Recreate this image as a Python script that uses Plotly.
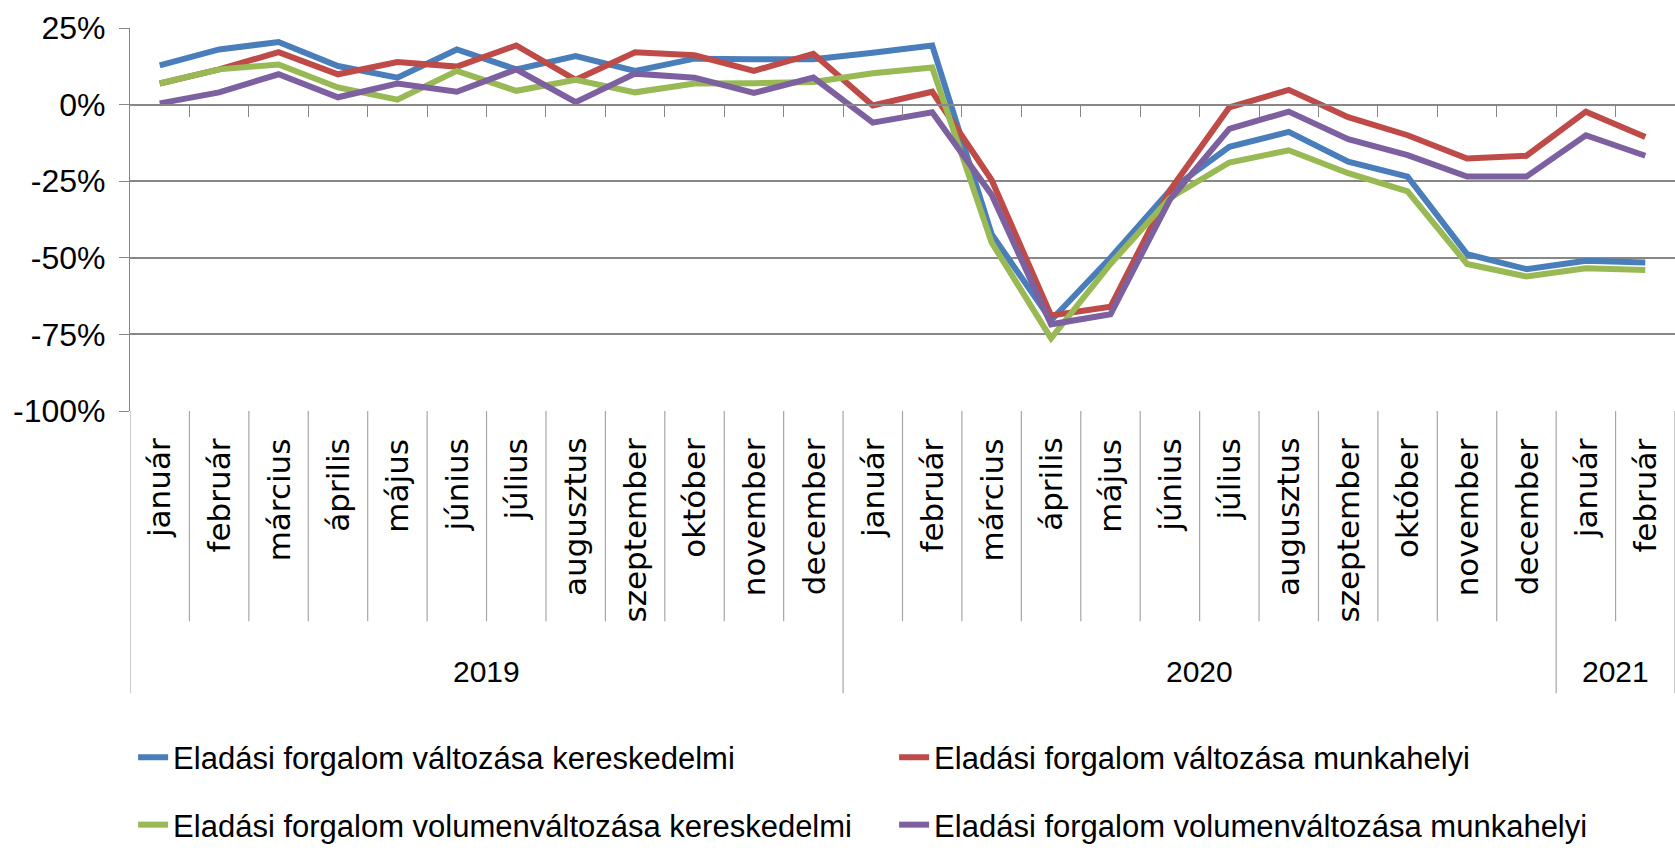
import plotly.graph_objects as go

# ---------------- data ----------------
months = ["január", "február", "március", "április", "május", "június",
          "július", "augusztus", "szeptember", "október", "november", "december",
          "január", "február", "március", "április", "május", "június",
          "július", "augusztus", "szeptember", "október", "november", "december",
          "január", "február"]
years = ["2019"] * 12 + ["2020"] * 12 + ["2021"] * 2

names = ["Eladási forgalom változása kereskedelmi",
         "Eladási forgalom változása munkahelyi",
         "Eladási forgalom volumenváltozása kereskedelmi",
         "Eladási forgalom volumenváltozása munkahelyi"]

valt_ker = [12.8, 18.0, 20.4, 12.6, 8.8, 18.0, 11.5, 15.8, 11.0, 15.0, 14.8, 14.8,
            16.9, 19.3, -42.3, -70.4, -50.0, -28.0, -13.8, -8.9, -18.6, -23.5, -48.8, -53.7,
            -51.0, -51.5]
valt_mun = [6.9, 11.5, 17.1, 9.9, 13.9, 12.4, 19.3, 8.1, 17.1, 16.1, 11.0, 16.6,
            -0.3, 4.2, -24.6, -68.8, -66.0, -28.0, -0.9, 4.8, -4.1, -10.0, -17.6, -16.7,
            -2.3, -10.6]
vol_ker = [6.9, 11.5, 13.1, 5.6, 1.6, 11.0, 4.5, 8.1, 4.0, 6.9, 7.0, 7.4,
           10.2, 12.1, -45.0, -76.3, -52.0, -30.5, -18.9, -14.9, -22.4, -28.3, -52.0, -56.1,
           -53.4, -54.0]
vol_mun = [0.4, 4.0, 9.9, 2.4, 6.9, 4.2, 11.5, 0.8, 10.1, 8.8, 3.8, 8.8,
           -5.9, -2.5, -29.4, -71.7, -68.4, -31.0, -7.9, -2.3, -11.3, -16.5, -23.5, -23.5,
           -10.0, -16.7]

y_ticks = [25, 0, -25, -50, -75, -100]

# ---------------- styling ----------------
colors = ["#4A7EBB", "#BE4B48", "#98B954", "#7D60A0"]
NARROW = "Liberation Sans Narrow, Arial Narrow, Liberation Sans, sans-serif"
GRID = "#878787"
SEP = "#a6a6a6"

n = len(months)
xs = list(range(n))

fig = go.Figure()
series = [valt_ker, valt_mun, vol_ker, vol_mun]
legends = ["legend", "legend", "legend2", "legend2"]
for name, vals, col, lg in zip(names, series, colors, legends):
    fig.add_trace(go.Scatter(
        x=xs, y=vals, name=name, mode="lines",
        line=dict(color=col, width=6),
        customdata=[f"{y} {m}" for y, m in zip(years, months)],
        hovertemplate="%{customdata}<br>%{y:.1f}%<extra>" + name + "</extra>",
        legend=lg,
    ))

# month separators and year separators below the plot area
shapes = []
MONTH_BOTTOM = -0.549
YEAR_BOTTOM = -0.737
year_bounds = [i for i in range(1, n) if years[i] != years[i - 1]]
for i in range(1, n + 1):
    b = i - 0.5
    bottom = YEAR_BOTTOM if (i in year_bounds or i == n) else MONTH_BOTTOM
    shapes.append(dict(type="line", xref="x", yref="paper", x0=b, x1=b,
                       y0=0, y1=bottom, line=dict(color=SEP, width=1.2)))
# y-axis line continuation
shapes.append(dict(type="line", xref="x", yref="paper", x0=-0.5, x1=-0.5,
                   y0=0, y1=YEAR_BOTTOM, line=dict(color=SEP, width=1.2)))

annotations = []
for i, m in enumerate(months):
    annotations.append(dict(x=i, xref="x", y=-0.066, yref="paper", text=m,
                            textangle=-90, showarrow=False, xanchor="center",
                            yanchor="top",
                            font=dict(family="DejaVu Sans", size=31, color="#000")))
# year labels centred on their groups
groups = []
for i, yv in enumerate(years):
    if not groups or groups[-1][0] != yv:
        groups.append([yv, i, i])
    else:
        groups[-1][2] = i
for yv, a, b in groups:
    annotations.append(dict(x=(a + b) / 2, xref="x", y=-0.679, yref="paper",
                            text=yv, showarrow=False, xanchor="center",
                            yanchor="middle",
                            font=dict(family=NARROW, size=30, color="#000")))

legend_common = dict(orientation="h", x=0.002, xanchor="left", yanchor="middle",
                     entrywidth=716, entrywidthmode="pixels", bgcolor="rgba(0,0,0,0)",
                     font=dict(family=NARROW, size=31, color="#000"))

fig.update_layout(
    width=1675, height=852,
    margin=dict(l=130, r=0, t=28, b=440),
    paper_bgcolor="white", plot_bgcolor="white",
    showlegend=True,
    shapes=shapes, annotations=annotations,
    xaxis=dict(range=[-0.5, n - 0.5], showgrid=False, zeroline=False,
               tickvals=[i - 0.5 for i in range(1, n)], showticklabels=False,
               ticks="outside", ticklen=12, tickcolor=GRID, tickwidth=1.2,
               showline=True, linecolor=GRID, linewidth=1.5,
               anchor="free", position=0.8, side="bottom"),
    yaxis=dict(range=[-100, 25], tickvals=y_ticks,
               ticktext=[f"{v}%" for v in y_ticks],
               showgrid=True, gridcolor=GRID, gridwidth=1.5, zeroline=False,
               showline=True, linecolor=GRID, linewidth=1.2,
               ticks="outside", ticklen=10, tickcolor=GRID,
               ticklabelstandoff=7,
               tickfont=dict(family=NARROW, size=32, color="#000")),
    legend=dict(legend_common, y=-0.9),
    legend2=dict(legend_common, y=-1.083),
)

fig.write_html("out.html", config={"displayModeBar": False},
               post_script="document.body.style.margin='0';document.body.style.overflow='hidden';")
